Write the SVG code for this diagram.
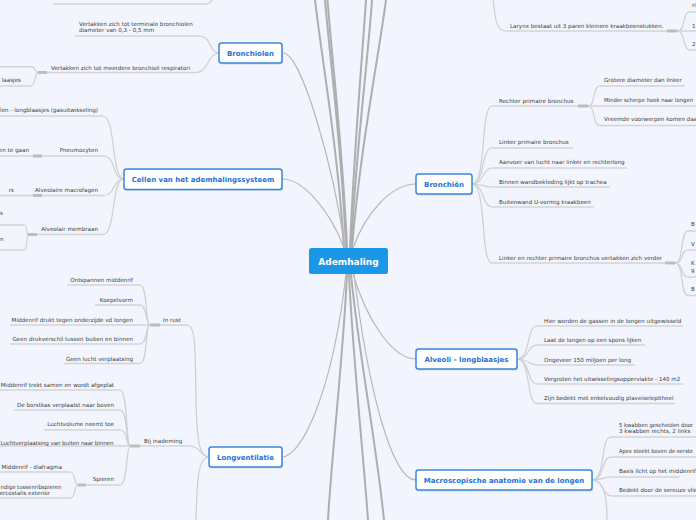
<svg xmlns="http://www.w3.org/2000/svg" width="696" height="520" viewBox="0 0 696 520">
<style>
.bg{fill:#f2f5fd}
.m{fill:none;stroke:#b8b8b8;stroke-width:1.2}
.m2{fill:none;stroke:#aeaeae;stroke-width:2}
.b{fill:none;stroke:#cfcfcf;stroke-width:1.2}
.u{fill:none;stroke:#d3d3d3;stroke-width:1.5}
.s{fill:none;stroke:#bdbdbd;stroke-width:3}
.n rect.box{fill:#ffffff;stroke:#3a86de;stroke-width:1.5}
.n rect.sh{fill:#8aa6c8;opacity:0.35}
.n text{font-family:"DejaVu Sans",Verdana,sans-serif;font-weight:bold;font-size:7px;fill:#1d72d6;text-anchor:middle}
.t{font-family:"DejaVu Sans",Verdana,sans-serif;font-size:5.6px;fill:#3c3c3c}
.e{text-anchor:end}
</style>
<rect class="bg" x="0" y="0" width="696" height="520"/>

<g id="connectors">
  <path class="m2" d="M344,248 C338,150 322,60 315,0"/>
  <path class="m2" d="M346,248 C342,150 330,60 325,0"/>
  <path class="m2" d="M347,248 C343,150 332,60 327.5,0"/>
  <path class="m2" d="M350,248 C354,150 362,60 366,0"/>
  <path class="m2" d="M351,248 C356,150 368,60 372,0"/>
  <path class="m2" d="M352,248 C360,150 378,60 386,0"/>
  <path class="m2" d="M347,274 C343,360 332,450 328,520"/>
  <path class="m2" d="M349,274 C353,360 363,450 368,520"/>
  <path class="m2" d="M351,274 C358,350 376,440 384,520"/>
  <path class="m" d="M283,53 C302,53 334,170 345,248"/>
  <path class="m" d="M282,179 C305,179 332,215 344,248"/>
  <path class="m" d="M353,248 C366,212 392,184 416,184"/>
  <path class="m" d="M353,274 C366,318 392,359 416,359"/>
  <path class="m" d="M282,457 C302,457 333,390 346,274"/>
  <path class="m" d="M416,480 C392,480 368,390 354,274"/>

  <path class="u" d="M53,4 L205,4"/>
  <path class="b" d="M205,4 C213,4 214,-4 218,-12"/>

  <path class="u" d="M75,36 L200,36"/>
  <path class="b" d="M200,36 C211,36 209,53 219,53"/>
  <path class="u" d="M38,72.5 L196,72.5"/>
  <path class="s" d="M38,72.5 L47,72.5"/>
  <path class="b" d="M196,72.5 C208,72.5 208,53 219,53"/>
  <path class="u" d="M0,66.7 L31,66.7"/>
  <path class="b" d="M31,66.7 C36,66.7 35,72.5 38,72.5"/>
  <path class="u" d="M0,86 L30,86"/>
  <path class="b" d="M30,86 C36,86 35,72.5 38,72.5"/>

  <path class="u" d="M0,116 L103,116"/>
  <path class="b" d="M103,116 C116,116 111,179 124,179"/>
  <path class="u" d="M33,156 L103,156"/>
  <path class="s" d="M33,156 L42,156"/>
  <path class="b" d="M103,156 C116,156 112,179 124,179"/>
  <path class="u" d="M0,156 L33,156"/>
  <path class="u" d="M33,195.5 L103,195.5"/>
  <path class="s" d="M33,195.5 L42,195.5"/>
  <path class="b" d="M103,195.5 C116,195.5 112,179 124,179"/>
  <path class="u" d="M0,195.5 L33,195.5"/>
  <path class="u" d="M28,234.5 L103,234.5"/>
  <path class="s" d="M28,234.5 L37,234.5"/>
  <path class="b" d="M103,234.5 C116,234.5 111,179 124,179"/>
  <path class="u" d="M0,225 L24,225"/>
  <path class="b" d="M24,225 C28,225 26,234.5 28,234.5"/>
  <path class="u" d="M0,250 L24,250"/>
  <path class="b" d="M24,250 C28,250 26,234.5 28,234.5"/>

  <path class="u" d="M150,325 L187,325"/>
  <path class="s" d="M150,325 L160,325"/>
  <path class="b" d="M187,325 C197,325 195,360 196,400 C197,445 200,457 209,457"/>
  <path class="u" d="M130,446 L190,446"/>
  <path class="s" d="M130,446 L140,446"/>
  <path class="b" d="M190,446 C200,446 202,457 209,457"/>
  <path class="b" d="M209,457 C198,457 197,480 196,520"/>
  <path class="u" d="M67,285 L140,285"/>
  <path class="b" d="M140,285 C148,285 145,325 150,325"/>
  <path class="u" d="M95,305 L140,305"/>
  <path class="b" d="M140,305 C147,305 146,325 150,325"/>
  <path class="u" d="M10,325 L150,325"/>
  <path class="u" d="M10,344 L140,344"/>
  <path class="b" d="M140,344 C147,344 146,325 150,325"/>
  <path class="u" d="M64,363.5 L140,363.5"/>
  <path class="b" d="M140,363.5 C148,363.5 145,325 150,325"/>
  <path class="u" d="M0,390 L120,390"/>
  <path class="b" d="M120,390 C128,390 126,446 130,446"/>
  <path class="u" d="M14,410 L120,410"/>
  <path class="b" d="M120,410 C128,410 126,446 130,446"/>
  <path class="u" d="M44,430 L120,430"/>
  <path class="b" d="M120,430 C128,430 126,446 130,446"/>
  <path class="u" d="M0,446 L130,446"/>
  <path class="u" d="M78,485 L120,485"/>
  <path class="s" d="M78,485 L86,485"/>
  <path class="b" d="M120,485 C128,485 126,446 130,446"/>
  <path class="u" d="M0,472 L70,472"/>
  <path class="b" d="M70,472 C76,472 74,485 78,485"/>
  <path class="u" d="M0,498 L70,498"/>
  <path class="b" d="M70,498 C76,498 74,485 78,485"/>

  <path class="b" d="M492,-10 C495,18 496,31 505,31"/>
  <path class="u" d="M505,31 L677,31"/>
  <path class="s" d="M667,31 L677,31"/>
  <path class="b" d="M677,31 C686,31 682,12 690,12"/>
  <path class="u" d="M690,12 L700,12"/>
  <path class="u" d="M677,31 L700,31"/>
  <path class="b" d="M677,31 C686,31 682,50 690,50"/>
  <path class="u" d="M690,50 L700,50"/>

  <path class="b" d="M472,184 C487,184 480,106 492,106"/>
  <path class="u" d="M492,106 L588,106"/>
  <path class="s" d="M578,106 L588,106"/>
  <path class="b" d="M472,184 C485,184 481,148 492,148"/>
  <path class="u" d="M492,148 L573,148"/>
  <path class="b" d="M472,184 C484,184 482,168 492,168"/>
  <path class="u" d="M492,168 L627,168"/>
  <path class="b" d="M472,184 C483,184 483,187 492,187"/>
  <path class="u" d="M492,187 L610,187"/>
  <path class="b" d="M472,184 C484,184 482,207 492,207"/>
  <path class="u" d="M492,207 L594,207"/>
  <path class="b" d="M472,184 C487,184 480,263 492,263"/>
  <path class="u" d="M492,263 L675,263"/>
  <path class="s" d="M665,263 L675,263"/>
  <path class="b" d="M588,106 C596,106 592,86 600,86"/>
  <path class="u" d="M600,86 L685,86"/>
  <path class="u" d="M588,106 L700,106"/>
  <path class="b" d="M588,106 C596,106 592,125.5 600,125.5"/>
  <path class="u" d="M600,125.5 L700,125.5"/>
  <path class="b" d="M675,263 C684,263 680,231 688,231"/>
  <path class="u" d="M688,231 L700,231"/>
  <path class="b" d="M675,263 C684,263 680,250 688,250"/>
  <path class="u" d="M688,250 L700,250"/>
  <path class="b" d="M675,263 C684,263 680,277 688,277"/>
  <path class="u" d="M688,277 L700,277"/>
  <path class="b" d="M675,263 C684,263 680,295.5 688,295.5"/>
  <path class="u" d="M688,295.5 L700,295.5"/>

  <path class="b" d="M517,359 C531,359 526,326 537,326"/>
  <path class="u" d="M537,326 L683,326"/>
  <path class="b" d="M517,359 C530,359 527,345 537,345"/>
  <path class="u" d="M537,345 L645,345"/>
  <path class="b" d="M517,359 C529,359 528,365 537,365"/>
  <path class="u" d="M537,365 L635,365"/>
  <path class="b" d="M517,359 C530,359 527,384 537,384"/>
  <path class="u" d="M537,384 L683,384"/>
  <path class="b" d="M517,359 C531,359 526,403.5 537,403.5"/>
  <path class="u" d="M537,403.5 L675,403.5"/>

  <path class="b" d="M592,480 C606,480 600,437 611,437"/>
  <path class="u" d="M611,437 L700,437"/>
  <path class="b" d="M592,480 C605,480 601,457 611,457"/>
  <path class="u" d="M611,457 L700,457"/>
  <path class="b" d="M592,480 C603,480 603,477 611,477"/>
  <path class="u" d="M611,477 L680,477"/>
  <path class="b" d="M592,480 C604,480 602,496 611,496"/>
  <path class="u" d="M611,496 L700,496"/>
  <path class="b" d="M592,480 C605,480 607,500 607,520"/>
</g>

<g id="ademhaling">
  <rect x="309" y="248" width="79" height="26" rx="2.5" fill="#1b97e8"/>
  <text x="348.5" y="264.5" font-family="'DejaVu Sans',Verdana,sans-serif" font-weight="bold" font-size="9" fill="#ffffff" text-anchor="middle">Ademhaling</text>
</g>

<g id="bronchiolen" class="n">
  <rect class="sh" x="220" y="44.5" width="63" height="20" rx="2.5"/>
  <rect class="box" x="219" y="43" width="63" height="20" rx="2.5"/>
  <text x="250.5" y="55.5">Bronchiolen</text>
</g>
<g id="cellen" class="n">
  <rect class="sh" x="125" y="170.5" width="158" height="20.5" rx="2.5"/>
  <rect class="box" x="124" y="169" width="158" height="20.5" rx="2.5"/>
  <text x="203" y="181.8">Cellen van het ademhalingssysteem</text>
</g>
<g id="longventilatie" class="n">
  <rect class="sh" x="210" y="448.5" width="73" height="20" rx="2.5"/>
  <rect class="box" x="209" y="447" width="73" height="20" rx="2.5"/>
  <text x="245.5" y="459.5">Longventilatie</text>
</g>
<g id="bronchien" class="n">
  <rect class="sh" x="417" y="175.5" width="56" height="20" rx="2.5"/>
  <rect class="box" x="416" y="174" width="56" height="20" rx="2.5"/>
  <text x="444" y="186.5">Bronchiën</text>
</g>
<g id="alveoli" class="n">
  <rect class="sh" x="417" y="350.5" width="101" height="20" rx="2.5"/>
  <rect class="box" x="416" y="349" width="101" height="20" rx="2.5"/>
  <text x="466.5" y="361.5">Alveoli - longblaasjes</text>
</g>
<g id="macroscopische" class="n">
  <rect class="sh" x="417" y="471.5" width="176" height="20" rx="2.5"/>
  <rect class="box" x="416" y="470" width="176" height="20" rx="2.5"/>
  <text x="504" y="482.5">Macroscopische anatomie van de longen</text>
</g>

<g id="bronchiolen-1"><text class="t" x="79" y="26.3">Vertakken zich tot terminale bronchiolen</text><text class="t" x="79" y="32.3">diameter van 0,3 - 0,5 mm</text></g>
<g id="bronchiolen-2"><text class="t" x="51" y="69.8">Vertakken zich tot meerdere bronchioli respiratori</text></g>
<g id="bronchiolen-2a"><text class="t e" x="21" y="82">laasjes</text></g>

<g id="cellen-1"><text class="t e" x="98" y="112">len - longblaasjes (gasuitwisseling)</text></g>
<g id="cellen-2"><text class="t e" x="98" y="152">Pneumocyten</text></g>
<g id="cellen-2a"><text class="t e" x="29" y="151.5">en te gaan</text></g>
<g id="cellen-3"><text class="t e" x="98" y="192">Alveolaire macrofagen</text></g>
<g id="cellen-3a"><text class="t e" x="14" y="191.5">rs</text></g>
<g id="cellen-4"><text class="t e" x="98" y="230.5">Alveolair membraan</text></g>
<g id="cellen-4a"><text class="t" x="0" y="214.5">s</text></g>
<g id="cellen-4b"><text class="t" x="0" y="240.5">n</text></g>

<g id="inrust"><text class="t" x="163" y="321.5">In rust</text></g>
<g id="inrust-1"><text class="t e" x="133" y="281.5">Ontspannen middenrif</text></g>
<g id="inrust-2"><text class="t e" x="133" y="301.5">Koepelvorm</text></g>
<g id="inrust-3"><text class="t e" x="133" y="321.5">Middenrif drukt tegen onderzijde vd longen</text></g>
<g id="inrust-4"><text class="t e" x="133" y="340.5">Geen drukverschil tussen buiten en binnen</text></g>
<g id="inrust-5"><text class="t e" x="133" y="360.5">Geen lucht verplaatsing</text></g>
<g id="inademing"><text class="t" x="144" y="442.5">Bij inademing</text></g>
<g id="inademing-1"><text class="t e" x="114" y="387">Middenrif trekt samen en wordt afgeplat</text></g>
<g id="inademing-2"><text class="t e" x="114" y="406.5">De borstkas verplaatst naar boven</text></g>
<g id="inademing-3"><text class="t e" x="114" y="426">Luchtvolume neemt toe</text></g>
<g id="inademing-4"><text class="t" x="0.5" y="445" textLength="113" lengthAdjust="spacing">Luchtverplaatsing van buiten naar binnen</text></g>
<g id="spieren"><text class="t e" x="114" y="481">Spieren</text></g>
<g id="spieren-1"><text class="t e" x="62" y="468.5">Middenrif - diafragma</text></g>
<g id="spieren-2"><text class="t" x="0.5" y="488.5" textLength="61" lengthAdjust="spacingAndGlyphs">ndige tussenribspieren</text><text class="t e" x="50" y="494.5">ercostalis exterior</text></g>

<g id="larynx"><text class="t" x="510" y="27.5">Larynx bestaat uit 3 paren kleinere kraakbeenstukken.</text></g>
<g id="larynx-1"><text class="t" x="692" y="7">ri</text></g>
<g id="larynx-2"><text class="t" x="692" y="27.5">1</text></g>
<g id="larynx-3"><text class="t" x="692" y="46">2</text></g>

<g id="bronchien-1"><text class="t" x="499" y="102.5">Rechter primaire bronchus</text></g>
<g id="bronchien-1a"><text class="t" x="604" y="82">Grotere diameter dan linker</text></g>
<g id="bronchien-1b"><text class="t" x="604" y="102" textLength="89" lengthAdjust="spacingAndGlyphs">Minder scherpe hoek naar longen</text></g>
<g id="bronchien-1c"><text class="t" x="604" y="121">Vreemde voorwerpen komen daa</text></g>
<g id="bronchien-2"><text class="t" x="499" y="144">Linker primaire bronchus</text></g>
<g id="bronchien-3"><text class="t" x="499" y="164">Aanvoer van lucht naar linker en rechterlong</text></g>
<g id="bronchien-4"><text class="t" x="499" y="183.5">Binnen wandbekleding lijkt op trachea</text></g>
<g id="bronchien-5"><text class="t" x="499" y="203.5">Buitenwand U-vormig kraakbeen</text></g>
<g id="bronchien-6"><text class="t" x="499" y="259.5">Linker en rechter primaire bronchus vertakken zich verder</text></g>
<g id="bronchien-6a"><text class="t" x="691" y="226">B</text></g>
<g id="bronchien-6b"><text class="t" x="691" y="245.5">V</text></g>
<g id="bronchien-6c"><text class="t" x="691" y="264.5">K</text><text class="t" x="691" y="271.5">g</text></g>
<g id="bronchien-6d"><text class="t" x="691" y="291">B</text></g>

<g id="alveoli-1"><text class="t" x="544" y="322.5">Hier worden de gassen in de longen uitgewisseld</text></g>
<g id="alveoli-2"><text class="t" x="544" y="341.5">Laat de longen op een spons lijken</text></g>
<g id="alveoli-3"><text class="t" x="544" y="361.5">Ongeveer 150 miljoen per long</text></g>
<g id="alveoli-4"><text class="t" x="544" y="380.5">Vergroten het uitwisselingsoppervlakte - 140 m2</text></g>
<g id="alveoli-5"><text class="t" x="544" y="400">Zijn bedekt met enkelvoudig plaveiselepitheel</text></g>

<g id="macro-1"><text class="t" x="619" y="426.5" textLength="74" lengthAdjust="spacingAndGlyphs">5 kwabben gescheiden door</text><text class="t" x="619" y="432.5">3 kwabben rechts, 2 links</text></g>
<g id="macro-2"><text class="t" x="619" y="453" textLength="74" lengthAdjust="spacingAndGlyphs">Apex steekt boven de eerste</text></g>
<g id="macro-3"><text class="t" x="619" y="472.5">Basis licht op het middenrif</text></g>
<g id="macro-4"><text class="t" x="619" y="492">Bedekt door de sereuze vlie</text></g>
</svg>
